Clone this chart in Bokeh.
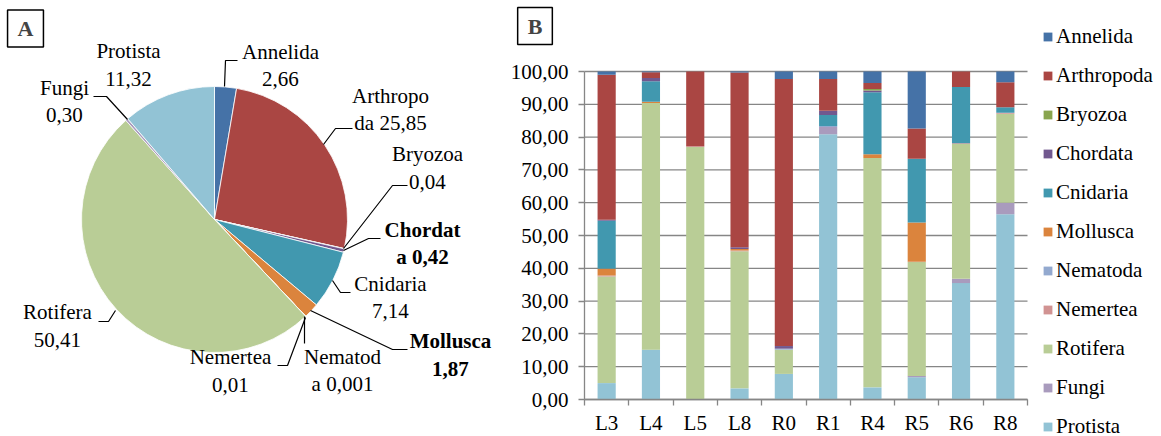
import math
from bokeh.plotting import figure
from bokeh.layouts import row
from bokeh.models import (Range1d, FixedTicker, CustomJSTickFormatter, Legend,
                          LegendItem, Label, ColumnDataSource)
from bokeh.core.properties import value
from bokeh.embed import file_html
from bokeh.resources import INLINE

FONT = "Liberation Serif"

# ---------------- data ----------------
pie_names = ["Annelida", "Arthropoda", "Bryozoa", "Chordata", "Cnidaria", "Mollusca",
             "Nematoda", "Nemertea", "Rotifera", "Fungi", "Protista"]
pie_values = [2.66, 25.85, 0.04, 0.42, 7.14, 1.87, 0.001, 0.01, 50.41, 0.30, 11.32]
pie_label_text = ["Annelida\n2,66", "Arthropo\nda 25,85", "Bryozoa\n0,04", "Chordat\na 0,42",
                  "Cnidaria\n7,14", "Mollusca\n1,87", "Nematod\na 0,001", "Nemertea\n0,01",
                  "Rotifera\n50,41", "Fungi\n0,30", "Protista\n11,32"]
pie_bold = ["Chordata", "Mollusca"]

sites = ["L3", "L4", "L5", "L8", "R0", "R1", "R4", "R5", "R6", "R8"]
Protista   = [5.0, 15.2, 0.0, 3.4, 7.8, 80.9, 3.7, 6.8, 35.5, 56.5]
Fungi      = [0.0, 0.0, 0.0, 0.0, 0.0, 2.2, 0.0, 0.4, 1.3, 3.5]
Rotifera   = [32.5, 75.2, 77.0, 41.8, 7.4, 0.0, 69.9, 34.7, 41.1, 27.1]
Nemertea   = [0.3, 0.0, 0.2, 0.2, 0.0, 0.0, 0.0, 0.1, 0.2, 0.3]
Nematoda   = [0.0, 0.0, 0.0, 0.0, 0.3, 0.3, 0.0, 0.0, 0.0, 0.0]
Mollusca   = [2.1, 0.4, 0.0, 0.5, 0.0, 0.0, 1.2, 12.0, 0.0, 0.0]
Cnidaria   = [14.6, 6.2, 0.0, 0.0, 0.0, 3.3, 18.9, 19.4, 17.2, 1.7]
Chordata   = [0.3, 1.0, 0.0, 0.5, 0.8, 1.3, 0.5, 0.0, 0.0, 0.0]
Bryozoa    = [0.0, 0.0, 0.0, 0.0, 0.0, 0.0, 0.5, 0.0, 0.0, 0.0]
Arthropoda = [44.2, 1.8, 22.8, 53.3, 81.4, 9.7, 1.8, 9.2, 4.7, 7.6]
Annelida   = [1.0, 0.2, 0.0, 0.3, 2.3, 2.3, 3.5, 17.4, 0.0, 3.3]

y_ticks = [0, 10, 20, 30, 40, 50, 60, 70, 80, 90, 100]

COLORS = {
    "Annelida": "#4572A7", "Arthropoda": "#AA4643", "Bryozoa": "#89A54E",
    "Chordata": "#71588F", "Cnidaria": "#4198AF", "Mollusca": "#DB843D",
    "Nematoda": "#93A9CF", "Nemertea": "#D19392", "Rotifera": "#B9CD96",
    "Fungi": "#A99BBD", "Protista": "#92C3D5",
}

# ---------------- layout constants (pixels) ----------------
H = 436
W1 = 500
W2 = 661
PIE_CX, PIE_CY, PIE_R = 214, 219, 133

# label block centres (image px, y down)
label_pos = {
    "Annelida": (280, 65), "Arthropoda": (390, 109), "Bryozoa": (427, 167.5),
    "Chordata": (422, 243), "Cnidaria": (390, 297), "Mollusca": (450, 354.5),
    "Nematoda": (342, 370), "Nemertea": (230, 370.5), "Rotifera": (57, 325.5),
    "Fungi": (64, 101), "Protista": (128, 64.5),
}
leaders = {
    "Annelida": [(237, 60), (225, 60), (224, 86)],
    "Arthropoda": [(352, 128), (335, 128), (323, 144)],
    "Bryozoa": [(407, 185), (392, 185), (343, 248)],
    "Chordata": [(380, 238), (368, 238), (343, 250)],
    "Cnidaria": [(350, 292), (340, 292), (332, 280)],
    "Mollusca": [(407, 349), (392, 349), (310, 310)],
    "Nematoda": [(304, 343), (304, 316)],
    "Nemertea": [(277, 365), (287, 365), (305, 317)],
    "Rotifera": [(98, 321), (108, 321), (115, 310)],
    "Fungi": [(93, 96), (106, 96), (127, 119)],
}

# ---------------- pie ----------------
p1 = figure(width=W1, height=H, x_range=Range1d(0, W1), y_range=Range1d(0, H),
            output_backend="svg", toolbar_location=None, min_border=0,
            x_axis_type=None, y_axis_type=None)
p1.outline_line_color = None
p1.grid.visible = False

total = sum(pie_values)
starts, ends, cum = [], [], 0.0
for v in pie_values:
    starts.append(math.pi / 2 - 2 * math.pi * cum / total)
    cum += v
    ends.append(math.pi / 2 - 2 * math.pi * cum / total)

pie_src = ColumnDataSource(dict(
    start=starts, end=ends, color=[COLORS[n] for n in pie_names],
    x=[PIE_CX] * len(pie_names), y=[H - PIE_CY] * len(pie_names)))
p1.wedge(x="x", y="y", radius=PIE_R, start_angle="start", end_angle="end",
         direction="clock", fill_color="color", line_color="white", line_width=0.8,
         source=pie_src)

xs, ys = [], []
for n in pie_names:
    if n in leaders:
        pts = leaders[n]
        xs.append([a for a, b in pts])
        ys.append([H - b for a, b in pts])
p1.multi_line(xs=xs, ys=ys, line_color="black", line_width=1.2)

lbl_src = ColumnDataSource(dict(
    x=[label_pos[n][0] for n in pie_names],
    y=[H - label_pos[n][1] for n in pie_names],
    text=pie_label_text,
    style=["bold" if n in pie_bold else "normal" for n in pie_names]))
p1.text(x="x", y="y", text="text", source=lbl_src, text_font=value(FONT),
        text_font_size="21px", text_align="center", text_baseline="middle",
        text_font_style="style", text_color="black", text_line_height=1.15)

p1.add_layout(Label(x=25, y=H - 28, text="A", text_font=FONT, text_font_style="bold",
                    text_font_size="22px", text_align="center", text_baseline="middle",
                    border_line_color="black", border_line_width=1.5,
                    background_fill_color="white",
                    padding=dict(left=10, right=10, top=6, bottom=6)))

# ---------------- stacked bars ----------------
# the frame covers the whole figure; axes are pinned with fixed_location
X0_PX, X10_PX = 584 - W1, 1027 - W1     # pixel columns of x=0 and x=len(sites)
Y0_PX, Y100_PX = 399, 71                # pixel rows of y=0 and y=100
ppx = (X10_PX - X0_PX) / len(sites)
ppy = (Y0_PX - Y100_PX) / 100.0
x_range = Range1d(-X0_PX / ppx, (W2 - X0_PX) / ppx)
y_range = Range1d(-(H - Y0_PX) / ppy, Y0_PX / ppy)

p2 = figure(width=W2, height=H, x_range=x_range, y_range=y_range,
            output_backend="svg", toolbar_location=None, min_border=0)
p2.outline_line_color = None
p2.grid.visible = False

GRAY = "#868686"
p2.segment(x0=[0] * len(y_ticks), x1=[len(sites)] * len(y_ticks), y0=y_ticks, y1=y_ticks,
           line_color=GRAY, line_width=1.3)

stack_order = ["Protista", "Fungi", "Rotifera", "Nemertea", "Nematoda", "Mollusca",
               "Cnidaria", "Chordata", "Bryozoa", "Arthropoda", "Annelida"]
series = dict(Protista=Protista, Fungi=Fungi, Rotifera=Rotifera, Nemertea=Nemertea,
              Nematoda=Nematoda, Mollusca=Mollusca, Cnidaria=Cnidaria, Chordata=Chordata,
              Bryozoa=Bryozoa, Arthropoda=Arthropoda, Annelida=Annelida)
data = dict(x=[i + 0.5 for i in range(len(sites))])
data.update(series)
src = ColumnDataSource(data)
rends = p2.vbar_stack(stack_order, x="x", width=0.41, source=src,
                      fill_color=[COLORS[s] for s in stack_order], line_color=None)

centers = [i + 0.5 for i in range(len(sites))]
xa = p2.xaxis[0]
xa.fixed_location = 0
xa.bounds = (0, len(sites))
xa.ticker = FixedTicker(ticks=centers, minor_ticks=list(range(len(sites) + 1)))
xa.formatter = CustomJSTickFormatter(args=dict(cats=sites),
                                     code="return cats[Math.floor(tick)];")
xa.major_tick_line_color = None
xa.major_tick_out = 6
xa.major_tick_in = 0
xa.minor_tick_line_color = GRAY
xa.minor_tick_line_width = 1.3
xa.minor_tick_out = 6
xa.minor_tick_in = 0
xa.major_label_standoff = 5

ya = p2.yaxis[0]
ya.fixed_location = 0
ya.bounds = (0, 100)
ya.ticker = FixedTicker(ticks=y_ticks)
ya.formatter = CustomJSTickFormatter(code="return tick.toFixed(2).replace('.', ',');")
ya.major_tick_line_color = GRAY
ya.major_tick_line_width = 1.3
ya.major_tick_out = 6
ya.major_tick_in = 0
ya.minor_tick_line_color = None
ya.major_label_standoff = 10

for ax in (xa, ya):
    ax.axis_line_color = GRAY
    ax.axis_line_width = 1.3
    ax.major_label_text_font = FONT
    ax.major_label_text_font_size = "21px"
    ax.major_label_text_color = "black"

items = [LegendItem(label=name, renderers=[r])
         for name, r in reversed(list(zip(stack_order, rends)))]
ITEM_H, SPACING = 25, 14
LEG_TOP = 23.5
LEG_H = len(items) * ITEM_H + (len(items) - 1) * SPACING
legend = Legend(items=items, location=(1042 - W1, H - LEG_TOP - LEG_H),
                label_text_font=FONT, label_text_font_size="21px", label_text_color="black",
                glyph_width=11, glyph_height=11, label_standoff=3, label_height=21,
                spacing=SPACING, padding=0, margin=0, border_line_color=None,
                background_fill_alpha=0)
p2.add_layout(legend)

bx = (534.5 - W1 - X0_PX) / ppx
by = (Y0_PX - 25.5) / ppy
p2.add_layout(Label(x=bx, y=by, text="B", text_font=FONT, text_font_style="bold",
                    text_font_size="22px", text_align="center", text_baseline="middle",
                    border_line_color="black", border_line_width=1.5,
                    background_fill_color="white",
                    padding=dict(left=10, right=10, top=6, bottom=6)))

layout = row(p1, p2)
open("out.html", "w").write(file_html(layout, INLINE))
